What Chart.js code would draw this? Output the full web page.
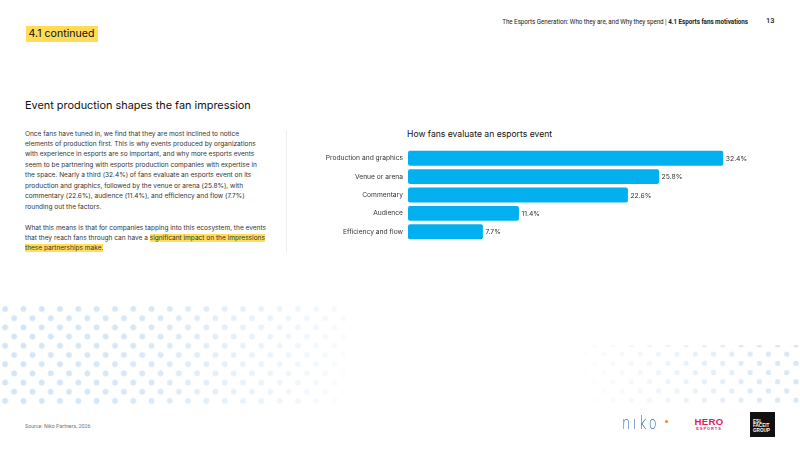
<!DOCTYPE html>
<html>
<head>
<meta charset="utf-8">
<script src="https://cdn.jsdelivr.net/npm/chart.js@4.4.1/dist/chart.umd.min.js"></script>
<style>
  html, body { margin:0; padding:0; background:#fff; }
  body { width:800px; height:449px; position:relative; overflow:hidden; font-family: Inter, "Noto Sans", sans-serif; color:#222; }
  .abs { position:absolute; white-space:nowrap; }
  #tag { left:25.5px; top:25.5px; width:72px; height:16.5px; background:#FFDB58; font-size:10.6px; font-weight:400; line-height:16.5px; text-align:center; color:#111; }
  #hdr { right:52px; top:17px; font-size:6.3px; font-family: Roboto, sans-serif; color:#222; line-height:10px; letter-spacing:-0.05px; }
  #hdr b { font-weight:700; }
  #pg { left:766px; top:16px; font-size:7.5px; font-family: Roboto, sans-serif; font-weight:500; color:#222; line-height:10px; }
  #h1 { left:25px; top:96.5px; font-size:10.9px; color:#111; line-height:16px; letter-spacing:0px; }
  #para { left:25px; top:128.5px; font-size:6.55px; line-height:10.45px; color:#333; }
  #para .hl { background:#FFDE5C; }
  #div { left:286px; top:130px; width:1px; height:123px; background:#eeeeee; }
  #ctitle { left:407px; top:127.5px; font-size:8.6px; color:#111; line-height:13px; letter-spacing:0px; }
  #chartbox { position:absolute; left:300px; top:140px; width:460px; height:110px; }
  #src { left:25px; top:423px; font-size:5.3px; color:#777; font-family: Roboto, sans-serif; }
  .dots1 { position:absolute; left:-4px; top:305px; width:355px; height:100px;
    background-image: radial-gradient(circle, #D3E5F5 2.7px, rgba(211,229,245,0) 3.2px), radial-gradient(circle, #D3E5F5 2.7px, rgba(211,229,245,0) 3.2px);
    background-size: 18.3px 18.4px, 18.3px 18.4px;
    background-position: 9px 4px, 0px 13.2px;
    -webkit-mask-image: linear-gradient(100deg, rgba(0,0,0,1) 0%, rgba(0,0,0,0.9) 40%, rgba(0,0,0,0.25) 90%, rgba(0,0,0,0) 100%);
    mask-image: linear-gradient(100deg, rgba(0,0,0,1) 0%, rgba(0,0,0,0.9) 40%, rgba(0,0,0,0.25) 90%, rgba(0,0,0,0) 100%);
  }
  .dots2 { position:absolute; left:555px; top:345px; width:250px; height:60px;
    background-image: radial-gradient(circle, #D3E5F5 2.5px, rgba(211,229,245,0) 3px), radial-gradient(circle, #D3E5F5 2.5px, rgba(211,229,245,0) 3px);
    background-size: 18.3px 18.4px, 18.3px 18.4px;
    background-position: 3px 0px, 12.2px 9.2px;
    -webkit-mask-image: linear-gradient(75deg, rgba(0,0,0,0) 10%, rgba(0,0,0,0.35) 40%, rgba(0,0,0,1) 100%);
    mask-image: linear-gradient(75deg, rgba(0,0,0,0) 10%, rgba(0,0,0,0.35) 40%, rgba(0,0,0,1) 100%);
  }
  #niko { left:622px; top:415px; font-size:13px; color:#3A6FB0; font-family: "DejaVu Sans", sans-serif; font-weight:300; letter-spacing:2.6px; line-height:18px; transform:scaleY(1.3); transform-origin: left center; }
  #nikodot { left:665px; top:419.5px; width:3px; height:3px; background:#F58220; border-radius:50%; }
  #hero { left:692px; top:417px; color:#E8175D; font-family: "Liberation Sans", Arial, sans-serif; text-align:center; width:34px; }
  #hero .a { font-size:9.6px; line-height:10px; letter-spacing:0.3px; font-weight:900; }
  #hero .b { font-size:4px; line-height:4.5px; letter-spacing:0.9px; font-weight:700; }
  #efg { left:750px; top:411.5px; width:25px; height:25px; background:#111; color:#fff; font-family: "Liberation Sans", Arial, sans-serif; font-size:4.6px; line-height:4.8px; font-weight:700; padding:0; }
  #efg span { display:block; padding-left:3px; }
</style>
</head>
<body>
<div class="dots1"></div>
<div class="dots2"></div>
<div id="tag" class="abs">4.1 continued</div>
<div id="hdr" class="abs">The Esports Generation: Who they are, and Why they spend | <b>4.1 Esports fans motivations</b></div>
<div id="pg" class="abs">13</div>
<div id="h1" class="abs">Event production shapes the fan impression</div>
<div id="para" class="abs">Once fans have tuned in, we find that they are most inclined to notice<br>elements of production first. This is why events produced by organizations<br>with experience in esports are so important, and why more esports events<br>seem to be partnering with esports production companies with expertise in<br>the space. Nearly a third (32.4%) of fans evaluate an esports event on its<br>production and graphics, followed by the venue or arena (25.8%), with<br>commentary (22.6%), audience (11.4%), and efficiency and flow (7.7%)<br>rounding out the factors.<br><br>What this means is that for companies tapping into this ecosystem, the events<br>that they reach fans through can have a <span class="hl">significant impact on the impressions</span><br><span class="hl">these partnerships make.</span></div>
<div id="div" class="abs"></div>
<div id="ctitle" class="abs">How fans evaluate an esports event</div>
<div id="chartbox"><canvas id="c" width="460" height="110"></canvas></div>
<div id="src" class="abs">Source: Niko Partners, 2026</div>
<div id="niko" class="abs">nıko</div>
<div id="nikodot" class="abs"></div>
<div id="hero" class="abs"><div class="a">HERO</div><div class="b">ESPORTS</div></div>
<div id="efg" class="abs"><div style="height:8px"></div><span>ESL</span><span>FACEIT</span><span>GROUP</span></div>

<script>
const categories = ["Production and graphics", "Venue or arena", "Commentary", "Audience", "Efficiency and flow"];
const shares = [32.4, 25.8, 22.6, 11.4, 7.7];
const axisMax = 35;

const valueLabels = {
  id: 'valueLabels',
  afterDatasetsDraw(chart) {
    const ctx = chart.ctx;
    const meta = chart.getDatasetMeta(0);
    ctx.save();
    ctx.font = '6.8px Inter, "Noto Sans", sans-serif';
    ctx.fillStyle = '#333';
    ctx.textAlign = 'left';
    ctx.textBaseline = 'middle';
    meta.data.forEach((bar, i) => {
      ctx.fillText(shares[i].toFixed(1) + '%', bar.x + 2.5, bar.y + 0.5);
    });
    ctx.restore();
  }
};

new Chart(document.getElementById('c'), {
  type: 'bar',
  data: {
    labels: categories,
    datasets: [{
      data: shares,
      backgroundColor: '#03B0EF',
      borderRadius: 2,
      borderSkipped: false,
      categoryPercentage: 1,
      barPercentage: 0.81
    }]
  },
  options: {
    indexAxis: 'y',
    responsive: false,
    animation: false,
    devicePixelRatio: 1,
    layout: { padding: { top: 6.5, bottom: 7.2, right: 11.4, left: 0 } },
    plugins: { legend: { display: false }, tooltip: { enabled: false } },
    scales: {
      x: { display: false, min: 0, max: axisMax },
      y: {
        grid: { display: false, drawTicks: false },
        border: { display: false },
        ticks: { color: '#333', padding: 5, font: { size: 6.7, family: 'Inter, "Noto Sans", sans-serif' } },
        afterFit(scale) { scale.width = 108; }
      }
    }
  },
  plugins: [valueLabels]
});
</script>
</body>
</html>
